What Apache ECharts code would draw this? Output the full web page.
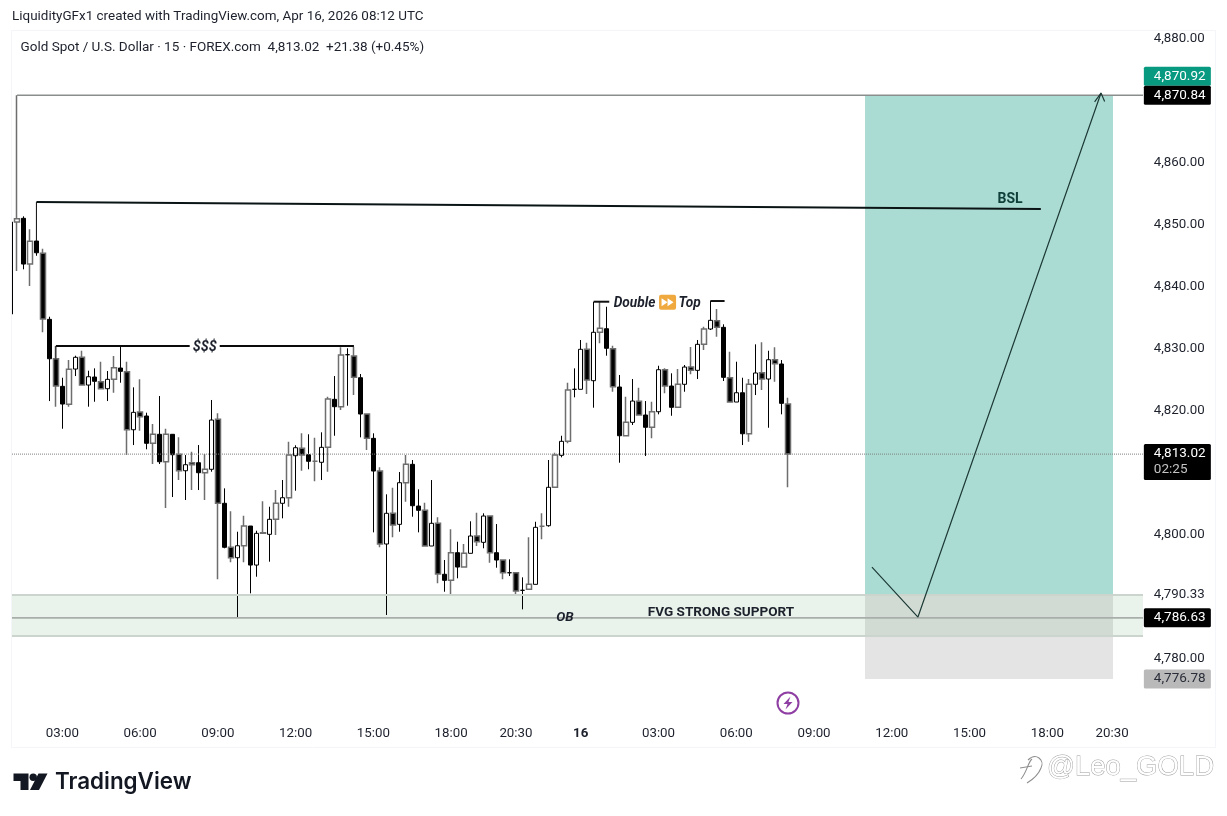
<!DOCTYPE html>
<html>
<head>
<meta charset="utf-8">
<title>Gold Spot / U.S. Dollar</title>
<script src="https://cdn.jsdelivr.net/npm/echarts@6/dist/echarts.min.js"></script>
<style>
html, body { margin: 0; padding: 0; background: #fff; }
#main { width: 1227px; height: 816px; }
</style>
</head>
<body>
<div id="main"></div>
<script>
// 15 minute candles
var opens = [
    4835.60, 4850.42, 4851.02, 4843.65, 4847.36, 4845.38, 4834.74, 4828.39, 4823.94, 4821.04, 4826.73, 4828.62,
    4824.15, 4825.44, 4824.69, 4823.56, 4825.07, 4826.89, 4826.30, 4816.95, 4819.80, 4819.16, 4814.76, 4816.21,
    4811.79, 4816.21, 4812.99, 4810.34, 4811.63, 4811.63, 4810.02, 4810.57, 4818.63, 4805.09, 4798.00, 4796.32,
    4798.25, 4801.43, 4795.14, 4800.35, 4800.09, 4802.51, 4805.09, 4805.99, 4812.76, 4813.95, 4812.92, 4811.86,
    4811.70, 4814.11, 4821.85, 4820.66, 4829.04, 4828.83, 4825.33, 4819.48, 4815.56, 4810.29, 4798.53, 4803.48,
    4801.70, 4808.41, 4811.37, 4804.65, 4803.96, 4798.21, 4801.87, 4793.65, 4792.68, 4797.13, 4794.82, 4797.03,
    4799.82, 4798.80, 4803.04, 4797.13, 4795.95, 4793.90, 4793.90, 4791.07, 4791.23, 4792.03, 4801.38, 4801.48,
    4807.67, 4812.82, 4815.08, 4823.46, 4823.46, 4829.91, 4824.85, 4832.65, 4833.23, 4830.00, 4823.83, 4815.98,
    4818.14, 4821.52, 4819.32, 4817.34, 4819.85, 4826.62, 4823.99, 4820.56, 4824.27, 4827.05, 4826.52, 4830.71,
    4833.18, 4834.52, 4833.45, 4825.33, 4821.41, 4822.91, 4816.30, 4824.27, 4826.14, 4825.12, 4828.23, 4827.54,
    4821.09
];
var closes = [
    4850.42, 4850.95, 4843.65, 4847.31, 4845.47, 4834.79, 4828.39, 4823.99, 4821.09, 4826.68, 4828.62, 4824.15,
    4825.49, 4824.75, 4823.56, 4825.07, 4826.94, 4826.36, 4816.95, 4819.75, 4819.04, 4814.76, 4816.21, 4811.79,
    4816.21, 4812.92, 4810.34, 4811.31, 4811.31, 4810.02, 4810.57, 4818.51, 4805.09, 4798.00, 4796.32, 4798.25,
    4801.43, 4795.14, 4800.25, 4800.25, 4802.51, 4805.09, 4805.99, 4812.87, 4814.05, 4812.87, 4811.86, 4811.86,
    4814.11, 4821.90, 4820.66, 4828.99, 4829.04, 4825.39, 4819.48, 4815.56, 4810.29, 4798.53, 4803.48, 4801.59,
    4808.41, 4811.37, 4804.70, 4803.96, 4798.21, 4801.87, 4793.69, 4792.68, 4797.13, 4794.82, 4797.03, 4799.82,
    4798.90, 4803.04, 4797.13, 4795.95, 4793.90, 4793.90, 4790.95, 4791.07, 4792.03, 4801.22, 4801.38, 4807.67,
    4812.87, 4815.08, 4823.35, 4823.46, 4829.91, 4824.96, 4832.65, 4833.29, 4830.07, 4823.88, 4815.98, 4818.14,
    4821.57, 4819.32, 4817.34, 4819.85, 4826.62, 4823.99, 4820.56, 4824.27, 4827.05, 4826.52, 4830.71, 4833.18,
    4834.58, 4833.45, 4825.39, 4821.41, 4822.91, 4816.30, 4824.27, 4826.09, 4825.12, 4828.23, 4827.59, 4821.20,
    4813.02
];
var lows = [
    4835.60, 4842.53, 4842.80, 4840.11, 4844.99, 4832.65, 4821.57, 4820.66, 4817.11, 4820.66, 4825.60, 4824.15,
    4820.66, 4821.46, 4823.56, 4821.57, 4822.91, 4824.52, 4812.87, 4814.48, 4816.79, 4813.79, 4811.42, 4811.42,
    4804.33, 4806.10, 4808.84, 4805.62, 4807.23, 4807.23, 4805.62, 4810.18, 4792.84, 4797.84, 4795.58, 4786.65,
    4795.58, 4790.58, 4793.26, 4800.25, 4795.68, 4799.98, 4802.67, 4804.54, 4807.12, 4810.34, 4810.57, 4808.63,
    4808.84, 4810.18, 4815.98, 4820.12, 4820.82, 4822.54, 4815.72, 4813.68, 4800.41, 4798.00, 4787.09, 4799.61,
    4800.51, 4805.35, 4802.93, 4800.41, 4798.21, 4798.21, 4792.19, 4790.84, 4790.31, 4793.00, 4794.82, 4797.03,
    4798.21, 4797.84, 4795.52, 4794.71, 4792.84, 4793.37, 4790.31, 4788.00, 4791.23, 4792.03, 4799.29, 4801.32,
    4807.67, 4812.50, 4814.76, 4822.17, 4823.46, 4822.70, 4820.50, 4830.87, 4828.88, 4823.07, 4811.63, 4815.98,
    4817.71, 4819.32, 4812.71, 4815.56, 4819.43, 4822.82, 4819.20, 4820.56, 4823.07, 4825.88, 4825.12, 4829.79,
    4833.02, 4831.94, 4824.80, 4821.41, 4821.41, 4814.48, 4815.01, 4822.54, 4823.35, 4817.27, 4824.68, 4819.43,
    4807.67
];
var highs = [
    4850.42, 4870.84, 4851.34, 4849.25, 4853.65, 4846.12, 4835.16, 4830.44, 4825.33, 4828.18, 4828.88, 4829.68,
    4826.46, 4826.84, 4827.91, 4826.41, 4828.83, 4830.49, 4827.91, 4823.78, 4825.07, 4819.69, 4817.87, 4822.38,
    4817.11, 4816.26, 4815.72, 4812.87, 4813.40, 4814.48, 4813.03, 4821.74, 4819.59, 4807.50, 4803.80, 4800.51,
    4803.09, 4801.43, 4800.67, 4805.41, 4804.54, 4807.23, 4808.84, 4815.02, 4814.44, 4816.37, 4816.21, 4815.66,
    4816.53, 4822.27, 4825.60, 4830.23, 4830.07, 4830.33, 4825.93, 4819.48, 4816.37, 4810.89, 4806.54, 4807.60,
    4810.13, 4812.87, 4812.07, 4807.34, 4805.19, 4808.84, 4802.84, 4795.95, 4800.90, 4798.90, 4798.53, 4802.19,
    4803.58, 4803.48, 4803.04, 4801.75, 4795.95, 4796.06, 4793.90, 4793.16, 4799.61, 4802.12, 4803.48, 4812.07,
    4813.24, 4815.98, 4824.52, 4826.84, 4831.41, 4830.97, 4837.58, 4837.58, 4836.77, 4830.49, 4825.77, 4822.27,
    4825.12, 4823.72, 4821.57, 4821.46, 4827.26, 4826.84, 4826.04, 4826.73, 4827.38, 4830.28, 4831.41, 4833.55,
    4837.69, 4836.40, 4833.94, 4829.52, 4827.91, 4825.33, 4825.12, 4830.71, 4831.03, 4829.68, 4830.23, 4828.18,
    4822.11
];

// time axis: session closes 20:45, reopens 22:00
var barCount = 176;
var barTimes = [];
var minutes = 60;
for (var n = 0; n < barCount; n++) {
    var hh = Math.floor(minutes / 60) % 24, mm = minutes % 60;
    barTimes.push((hh < 10 ? '0' : '') + hh + ':' + (mm < 10 ? '0' : '') + mm);
    minutes += 15;
    if (minutes % 1440 === 21 * 60) minutes += 60;
}
var tickIndex = [8, 20, 32, 44, 56, 68, 78, 88, 100, 112, 124, 136, 148, 160, 170];
var tickText = ['03:00', '06:00', '09:00', '12:00', '15:00', '18:00', '20:30', '16', '03:00', '06:00', '09:00', '12:00', '15:00', '18:00', '20:30'];
var priceTicks = [4880, 4860, 4850, 4840, 4830, 4820, 4800, 4790.33, 4780];

// drawings, as [bar index, price]
var targetLine = [[1, 4870.84], [174.77, 4870.84]];
var lastPriceLine = [[0.23, 4813.02], [174.77, 4813.02]];
var stopLine = [[0.23, 4786.63], [174.77, 4786.63]];
var bslLine = [[4, 4853.65], [159, 4852.52]];
var bslDrop = [[4, 4853.65], [4, 4847.36]];
var dollarLine = [[7, 4830.44], [53, 4830.44]];
var dollarDrop = [[7, 4830.44], [7, 4828.39]];
var doubleLeft = [[90, 4837.58], [92.4, 4837.58]];
var doubleRight = [[108, 4837.69], [110.2, 4837.69]];
var tradePath = [[132.94, 4794.82], [140.04, 4786.76], [168.29, 4871.21]];
var arrowHead = [[167.3, 4869.8], [168.29, 4871.21], [168.85, 4869.85]];
var fvgTop = [[0.23, 4790.33], [174.77, 4790.33]];
var fvgBottom = [[0.23, 4783.7], [174.77, 4783.7]];

// boxes: [from bar, to bar, top price, bottom price]
var stopBox = [131.87, 170.14, 4790.33, 4776.78];
var profitBox = [131.87, 170.14, 4870.84, 4790.33];
var fvgBox = [0.23, 174.77, 4790.33, 4783.7];

var tagPrices = [4870.84, 4870.84, 4813.02, 4786.63, 4776.78];
var tagText = ['4,870.92', '4,870.84', '4,813.02', '4,786.63', '4,776.78'];

var upCol = '#ffffff', downCol = '#000000', softCol = '#6e6e6e', inkCol = '#1d212c';

// the source image was scaled, so bars landing between two pixels come out grey and wider
function softBar(i) {
    var f = (10.5 + i * 6.48) % 1;
    return Math.abs(f - 0.5) > 0.25;
}

var candleData = opens.map(function (o, i) {
    var item = { value: [o, closes[i], lows[i], highs[i]] };
    if (softBar(i)) {
        item.itemStyle = { borderColor: softCol, borderColor0: softCol, borderColorDoji: softCol, borderWidth: 1.5 };
    }
    return item;
});

function lineSeries(points, color, width, type) {
    return {
        type: 'line', xAxisIndex: 1, yAxisIndex: 0, data: points, symbol: 'none', silent: true, z: 5,
        lineStyle: { color: color, width: width, type: type || 'solid', cap: 'butt' },
        animation: false
    };
}

function boxSeries(box, fill, z) {
    return {
        type: 'custom', xAxisIndex: 1, yAxisIndex: 0, silent: true, z: z, animation: false,
        data: [[box[0], box[2], box[1], box[3]]],
        encode: { x: [0, 2], y: [1, 3] },
        renderItem: function (params, api) {
            var a = api.coord([api.value(0), api.value(1)]);
            var b = api.coord([api.value(2), api.value(3)]);
            return { type: 'rect', shape: { x: a[0], y: a[1], width: b[0] - a[0], height: b[1] - a[1] }, style: { fill: fill } };
        }
    };
}

function noteSeries(bar, price, text, font, color, extra) {
    return {
        type: 'custom', xAxisIndex: 1, yAxisIndex: 0, silent: true, z: 8, animation: false,
        data: [[bar, price]],
        encode: { x: 0, y: 1 },
        renderItem: function (params, api) {
            var p = api.coord([api.value(0), api.value(1)]);
            var style = { x: p[0], y: p[1], text: text, font: font, fill: color, align: 'center', verticalAlign: 'middle' };
            for (var k in extra) style[k] = extra[k];
            return { type: 'text', style: style };
        }
    };
}

// orange "fast forward" emoji of the Double Top label
var emojiSeries = {
    type: 'custom', xAxisIndex: 1, yAxisIndex: 0, silent: true, z: 8, animation: false,
    data: [[101.4, 4837.5]],
    encode: { x: 0, y: 1 },
    renderItem: function (params, api) {
        var p = api.coord([api.value(0), api.value(1)]);
        return {
            type: 'group', x: p[0], y: p[1], children: [
                { type: 'rect', shape: { x: -8.5, y: -7.5, width: 17, height: 15, r: 2 }, style: { fill: '#efa93f' } },
                { type: 'polygon', shape: { points: [[-6, -4], [0, 0], [-6, 4]] }, style: { fill: '#fff' } },
                { type: 'polygon', shape: { points: [[0, -4], [6, 0], [0, 4]] }, style: { fill: '#fff' } }
            ]
        };
    }
};

// price tags on the scale
var tagSeries = {
    type: 'custom', xAxisIndex: 1, yAxisIndex: 0, silent: true, z: 20, animation: false, clip: false,
    data: tagPrices.map(function (p) { return [174.9, p]; }),
    encode: { x: 0, y: 1 },
    renderItem: function (params, api) {
        var i = params.dataIndex;
        var p = api.coord([api.value(0), api.value(1)]);
        var fill = '#000', col = '#fff', dy = -9.5, h = 19;
        if (i === 0) { fill = '#089981'; dy = -28.5; }
        if (i === 4) { fill = '#b9b9b9'; col = '#2a2e39'; }
        if (i === 2) { dy = -10; h = 36; }
        var kids = [
            { type: 'rect', shape: { x: p[0], y: p[1] + dy, width: 67, height: h, r: 1.5 }, style: { fill: fill } },
            { type: 'text', style: { x: p[0] + 10, y: p[1] + dy + 9.5, text: tagText[i], font: '13.5px Roboto', fill: col, verticalAlign: 'middle' } }
        ];
        if (i === 2) {
            kids.push({ type: 'text', style: { x: p[0] + 10, y: p[1] + dy + 26, text: '02:25', font: '13.5px Roboto', fill: '#c4c4c4', verticalAlign: 'middle' } });
        }
        return { type: 'group', children: kids };
    }
};

var main = document.getElementById('main');
var chart = echarts.init(main);
var option = {
    backgroundColor: '#fff',
    animation: false,
    textStyle: { fontFamily: 'Roboto' },
    grid: { left: 7.26, top: 30, width: 1140.48, height: 688, containLabel: false },
    xAxis: [
        {
            type: 'category',
            data: barTimes,
            boundaryGap: true,
            axisLine: { show: false },
            axisTick: { show: false },
            splitLine: { show: false },
            axisLabel: {
                show: true, color: inkCol, fontSize: 13.3, margin: 9, hideOverlap: false,
                interval: function (i) { return tickIndex.indexOf(i) >= 0; },
                formatter: function (v, i) {
                    var s = tickText[tickIndex.indexOf(i)];
                    return s === '16' ? '{day|16}' : s;
                },
                rich: { day: { fontWeight: 'bold', fontSize: 13.3, color: inkCol, fontFamily: 'Roboto' } }
            }
        },
        { type: 'value', min: -0.5, max: 175.5, show: false, splitLine: { show: false } }
    ],
    yAxis: [{
        type: 'value',
        position: 'right',
        min: 4770.49,
        max: 4881.37,
        axisLine: { show: false },
        axisTick: { show: false },
        splitLine: { show: false },
        axisLabel: {
            color: inkCol, fontSize: 13.3, margin: 6, padding: [0, 0, 5, 0],
            customValues: priceTicks,
            formatter: function (v) {
                return v.toFixed(2).replace(/(\d)(\d{3})\./, '$1,$2.');
            }
        }
    }],
    series: [
        boxSeries(stopBox, '#e4e4e4', 1),
        boxSeries(profitBox, '#abdcd3', 1),
        boxSeries(fvgBox, 'rgba(70,160,90,0.12)', 2),
        lineSeries(fvgTop, '#cbd5ce', 2),
        lineSeries(fvgBottom, '#cbd5ce', 2),
        lineSeries(stopLine, '#a8afab', 1.6),
        lineSeries(targetLine, '#8a8f8d', 1.5),
        lineSeries(lastPriceLine, '#7f7f7f', 1, 'dotted'),
        {
            type: 'candlestick',
            xAxisIndex: 0,
            yAxisIndex: 0,
            barWidth: 5,
            z: 4,
            data: candleData,
            itemStyle: { color: upCol, color0: downCol, borderColor: downCol, borderColor0: downCol, borderColorDoji: downCol, borderWidth: 1 }
        },
        lineSeries(bslLine, '#0a1414', 2),
        lineSeries(bslDrop, '#222', 1),
        lineSeries(dollarLine, '#0a0a0a', 2),
        lineSeries(dollarDrop, '#222', 1),
        lineSeries(doubleLeft, '#111', 2),
        lineSeries(doubleRight, '#111', 2),
        lineSeries(tradePath, '#1d3a36', 1.2),
        lineSeries(arrowHead, '#1d3a36', 1.2),
        noteSeries(29.97, 4830.2, '$$$', 'italic bold 14.4px Roboto', '#1d212c', { backgroundColor: '#fff', padding: [1, 3] }),
        noteSeries(96.3, 4837.32, 'Double', 'italic bold 13.7px Roboto', '#1d212c'),
        noteSeries(104.8, 4837.32, 'Top', 'italic bold 13.7px Roboto', '#1d212c'),
        emojiSeries,
        noteSeries(154.25, 4854.13, 'BSL', 'bold 14px Roboto', '#10403a'),
        noteSeries(85.57, 4786.74, 'OB', 'italic bold 13.5px Roboto', '#1d212c'),
        noteSeries(109.65, 4787.54, 'FVG STRONG SUPPORT', 'bold 13.55px Roboto', '#1d212c'),
        tagSeries
    ],
    graphic: [
        // hides the part of the first candle that falls left of the pane
        { type: 'rect', z: 30, shape: { x: 0, y: 30, width: 11, height: 718 }, style: { fill: '#fff' }, silent: true },
        { type: 'rect', z: 31, shape: { x: 11.5, y: 30.5, width: 1204, height: 717 }, style: { fill: 'none', stroke: '#f3f5f9', lineWidth: 1 }, silent: true },
        { type: 'text', z: 31, style: { x: 12, y: 17, text: 'LiquidityGFx1 created with TradingView.com, Apr 16, 2026 08:12 UTC', font: '13.45px Roboto', fill: inkCol, verticalAlign: 'middle' } },
        { type: 'text', z: 31, style: { x: 20.5, y: 47.5, text: 'Gold Spot / U.S. Dollar · 15 · FOREX.com  4,813.02  +21.38 (+0.45%)', font: '13.5px Roboto', fill: inkCol, verticalAlign: 'middle' } },
        // session break icon
        { type: 'circle', z: 31, shape: { cx: 788, cy: 703, r: 10.5 }, style: { fill: '#fff', stroke: '#8f3fa3', lineWidth: 2 } },
        { type: 'polygon', z: 32, shape: { points: [[790.5, 696.5], [783.5, 704], [787.5, 704], [785.5, 709.5], [792.5, 702], [788.5, 702]] }, style: { fill: '#8f3fa3' } },
        // TradingView logo
        { type: 'polygon', z: 31, shape: { points: [[13.5, 773.5], [28.5, 773.5], [28.5, 790], [20.5, 790], [20.5, 781], [13.5, 781]] }, style: { fill: '#131722' } },
        { type: 'circle', z: 31, shape: { cx: 33.2, cy: 777.2, r: 3.7 }, style: { fill: '#131722' } },
        { type: 'polygon', z: 31, shape: { points: [[38.5, 773.5], [47.5, 773.5], [39, 790], [30, 790]] }, style: { fill: '#131722' } },
        { type: 'text', z: 31, style: { x: 55, y: 782, text: 'TradingView', font: '600 22.4px Inter', fill: '#131722', verticalAlign: 'middle' } },
        // hollow watermark
        { type: 'text', z: 31, style: { x: 1047, y: 767, text: '@Leo_GOLD', font: '27.5px "Liberation Sans"', fill: '#fff', stroke: '#9d9d9d', lineWidth: 0.9, verticalAlign: 'middle' } },
        { type: 'bezierCurve', z: 31, shape: { x1: 1028, y1: 760, cpx1: 1036, cpy1: 752, cpx2: 1045, cpy2: 760, x2: 1041, y2: 768 }, style: { fill: 'none', stroke: '#8f8f8f', lineWidth: 1.1 } },
        { type: 'bezierCurve', z: 31, shape: { x1: 1041, y1: 768, cpx1: 1038, cpy1: 776, cpx2: 1032, cpy2: 780, x2: 1027, y2: 783 }, style: { fill: 'none', stroke: '#8f8f8f', lineWidth: 1.1 } },
        { type: 'bezierCurve', z: 31, shape: { x1: 1032, y1: 759, cpx1: 1028, cpy1: 762, cpx2: 1027, cpy2: 772, x2: 1021, y2: 779 }, style: { fill: 'none', stroke: '#8f8f8f', lineWidth: 1.1 } },
        { type: 'line', z: 31, shape: { x1: 1020, y1: 768, x2: 1032, y2: 766 }, style: { stroke: '#8f8f8f', lineWidth: 1.1 } }
    ]
};
chart.setOption(option);
</script>
</body>
</html>
